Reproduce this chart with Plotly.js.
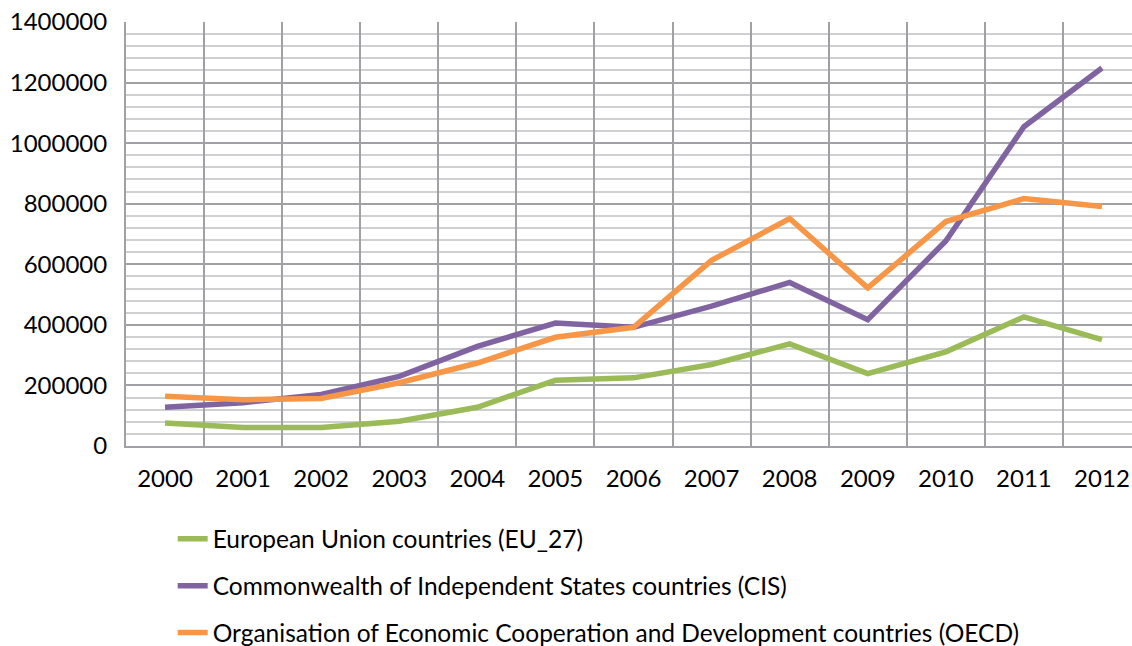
<!DOCTYPE html>
<html>
<head>
<meta charset="utf-8">
<script src="https://cdn.plot.ly/plotly-3.0.1.min.js"></script>
<style>
  html, body { margin: 0; padding: 0; overflow: hidden; background: #fff; }
  #chart { width: 1142px; height: 646px; }
</style>
</head>
<body>
<div id="chart"></div>
<script>
// values
const years = ['2000', '2001', '2002', '2003', '2004', '2005', '2006',
               '2007', '2008', '2009', '2010', '2011', '2012'];

const euValues   = [76000, 61000, 61000, 82000, 128000, 217000, 225000,
                    269000, 337000, 239000, 311000, 426000, 351000];
const cisValues  = [128000, 143000, 170000, 230000, 329000, 406000, 392000,
                    462000, 540000, 417000, 677000, 1054000, 1248000];
const oecdValues = [164000, 153000, 157000, 209000, 274000, 359000, 392000,
                    613000, 751000, 522000, 741000, 817000, 791000];

const seriesNames = [
  'European Union countries (EU_27)',
  'Commonwealth of Independent States countries (CIS)',
  'Organisation of Economic Cooperation and Development countries (OECD)'
];
const seriesColors = ['#9BBB59', '#8064A2', '#F79646'];

function makeTrace(values, i) {
  return {
    type: 'scatter',
    mode: 'lines',
    x: years,
    y: values,
    name: seriesNames[i],
    legendgroup: 'g' + i,
    line: { color: seriesColors[i], width: 5.5 },
    hoverinfo: 'x+y'
  };
}

const traces = [euValues, cisValues, oecdValues].map(makeTrace);

const layout = {
  width: 1142,
  height: 646,
  margin: { l: 126, r: 1, t: 22, b: 200, autoexpand: false },
  paper_bgcolor: '#ffffff',
  plot_bgcolor: '#ffffff',
  font: { family: 'Lato, "Open Sans", sans-serif', color: '#000000', size: 24 },
  showlegend: true,
  legend: {
    orientation: 'v',
    xref: 'paper',
    yref: 'paper',
    x: 0.046,
    xanchor: 'left',
    y: -0.166,
    yanchor: 'top',
    tracegroupgap: 12,
    font: { size: 24.5, color: '#000000' },
    bgcolor: 'rgba(0,0,0,0)'
  },
  xaxis: {
    type: 'category',
    range: [-0.5, 12.5],
    tickson: 'boundaries',
    tickangle: 0,
    showgrid: true,
    gridcolor: '#9fa1a4',
    gridwidth: 2,
    ticks: '',
    showline: true,
    linecolor: '#9fa1a4',
    linewidth: 2,
    tickfont: { size: 24 },
    ticklabelstandoff: 10,
    zeroline: false
  },
  yaxis: {
    range: [0, 1400000],
    dtick: 200000,
    tickformat: 'd',
    showgrid: true,
    gridcolor: '#9fa1a4',
    gridwidth: 2,
    minor: { dtick: 40000, showgrid: true, gridcolor: '#cfd0d2', gridwidth: 2 },
    ticks: '',
    showline: true,
    linecolor: '#9fa1a4',
    linewidth: 2,
    zeroline: false,
    tickfont: { size: 24 },
    ticklabelstandoff: 12
  }
};

Plotly.newPlot('chart', traces, layout, { displayModeBar: false, staticPlot: true });
</script>
</body>
</html>
